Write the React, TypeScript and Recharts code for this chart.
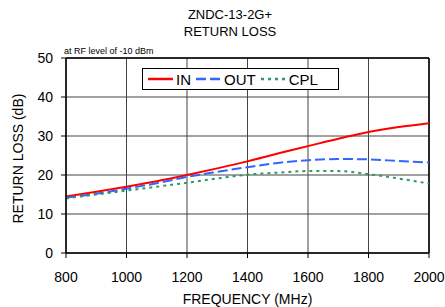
import { LineChart, Line, XAxis, YAxis, CartesianGrid, ReferenceLine } from "recharts";

if (typeof document !== "undefined") document.body.style.margin = "0";

const FREQ = [800, 900, 1000, 1100, 1200, 1300, 1400, 1500, 1600, 1700, 1800, 1900, 2000];
const IN_RL = [14.5, 15.7, 17.0, 18.4, 20.0, 21.7, 23.5, 25.5, 27.4, 29.3, 31.0, 32.3, 33.3];
const OUT_RL = [14.2, 15.2, 16.5, 17.9, 19.5, 20.8, 22.0, 23.1, 23.8, 24.1, 24.0, 23.6, 23.2];
const CPL_RL = [14.0, 15.0, 16.0, 17.0, 18.0, 19.1, 20.1, 20.6, 21.0, 21.0, 20.2, 19.1, 17.8];
const X_TICKS = [800, 1000, 1200, 1400, 1600, 1800, 2000];
const Y_TICKS = [0, 10, 20, 30, 40, 50];

const data = FREQ.map((f, i) => ({ f, IN: IN_RL[i], OUT: OUT_RL[i], CPL: CPL_RL[i] }));

const FONT = "'Liberation Sans', Arial, sans-serif";

const SERIES = [
  { key: "IN", color: "#ff0000", dash: undefined },
  { key: "OUT", color: "#3366ff", dash: "10 4" },
  { key: "CPL", color: "#2e9960", dash: "3 4" },
];

function BoxLegend() {
  return (
    <div
      style={{
        position: "absolute",
        left: 142,
        top: 68,
        width: 190,
        height: 20,
        border: "1px solid #000",
        background: "#fff",
        display: "flex",
        alignItems: "center",
        padding: "0 0 0 5px",
        fontFamily: FONT,
        fontSize: 15,
        color: "#000",
        zIndex: 2,
      }}
    >
      {SERIES.map((s) => (
        <div key={s.key} style={{ display: "flex", alignItems: "center", marginRight: 5 }}>
          <svg width={25} height={6} style={{ marginRight: 3 }}>
            <line x1={0} y1={3} x2={25} y2={3} stroke={s.color} strokeWidth={2.5} strokeDasharray={s.dash} />
          </svg>
          <span>{s.key}</span>
        </div>
      ))}
    </div>
  );
}

export default function App() {
  return (
    <div style={{ position: "relative", width: 445, height: 307, background: "#fff", fontFamily: FONT }}>
      <div style={{ position: "absolute", left: 0, top: 6, width: 460, textAlign: "center", fontSize: 13, lineHeight: "17px", color: "#000" }}>
        ZNDC-13-2G+
        <br />
        RETURN LOSS
      </div>
      <div style={{ position: "absolute", left: 64, top: 46, fontSize: 9, color: "#000" }}>at RF level of -10 dBm</div>
      <BoxLegend />
      <LineChart width={445} height={307} data={data} margin={{ top: 58, right: 16, left: 0, bottom: 0 }}>
        <CartesianGrid stroke="#444" strokeWidth={1} />
        <XAxis
          dataKey="f"
          type="number"
          domain={[800, 2000]}
          ticks={X_TICKS}
          height={54}
          tickSize={5}
          tickMargin={14}
          tick={{ fontSize: 14, fill: "#000", fontFamily: FONT }}
          axisLine={{ stroke: "#000", strokeWidth: 1.5 }}
          tickLine={{ stroke: "#000" }}
          label={{ value: "FREQUENCY (MHz)", position: "insideBottom", offset: 3, fontSize: 14, fill: "#000", fontFamily: FONT }}
        />
        <YAxis
          type="number"
          domain={[0, 50]}
          ticks={Y_TICKS}
          width={66}
          tickSize={5}
          tickMargin={8}
          tick={{ fontSize: 14, fill: "#000", fontFamily: FONT }}
          axisLine={{ stroke: "#000", strokeWidth: 1.5 }}
          tickLine={{ stroke: "#000" }}
          label={{ value: "RETURN LOSS (dB)", angle: -90, position: "insideLeft", offset: 18, dy: 68, fontSize: 14, fill: "#000", fontFamily: FONT }}
        />
        <ReferenceLine y={50} stroke="#000" strokeWidth={1.5} />
        <ReferenceLine x={2000} stroke="#000" strokeWidth={1.5} />
        {SERIES.map((s) => (
          <Line
            key={s.key}
            dataKey={s.key}
            type="monotone"
            stroke={s.color}
            strokeWidth={2}
            strokeDasharray={s.dash}
            dot={false}
            isAnimationActive={false}
          />
        ))}
      </LineChart>
    </div>
  );
}
